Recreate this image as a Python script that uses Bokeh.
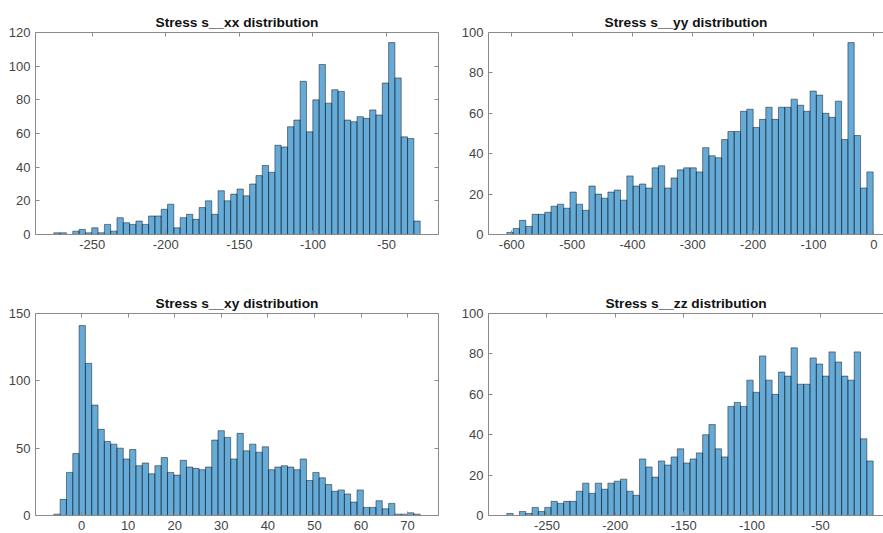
import numpy as np
from bokeh.plotting import figure
from bokeh.layouts import column, row
from bokeh.models import LinearAxis, FixedTicker, Range1d
from bokeh.embed import file_html
from bokeh.resources import INLINE

# ---- histogram data: 58 equal-width bins per stress component ----
sxx_counts = [1, 1, 0, 2, 3, 1, 4, 1, 6, 2,
              10, 7, 6, 8, 6, 11, 11, 15, 18, 4,
              10, 12, 9, 16, 20, 12, 26, 20, 24, 27,
              23, 30, 35, 41, 37, 53, 52, 64, 68, 91,
              61, 80, 101, 78, 86, 85, 68, 67, 70, 69,
              74, 71, 90, 114, 93, 58, 57, 8]
sxx_edges = (-276.1, -27.1)
sxx_xticks = [-250, -200, -150, -100, -50]
sxx_yticks = [0, 20, 40, 60, 80, 100, 120]

syy_counts = [1, 3, 7, 4, 10, 10, 11, 14, 15, 13,
              21, 15, 12, 24, 20, 18, 21, 22, 17, 29,
              24, 25, 23, 33, 34, 23, 28, 32, 33, 33,
              31, 43, 39, 38, 47, 51, 51, 61, 62, 53,
              57, 63, 57, 63, 63, 67, 64, 61, 71, 69,
              60, 58, 66, 47, 95, 49, 23, 31]
syy_edges = (-608.3, -1.0)
syy_xticks = [-600, -500, -400, -300, -200, -100, 0]
syy_yticks = [0, 20, 40, 60, 80, 100]

sxy_counts = [1, 12, 32, 46, 141, 113, 82, 64, 55, 53,
              50, 42, 49, 37, 39, 31, 37, 43, 32, 30,
              41, 36, 35, 34, 36, 56, 63, 58, 42, 61,
              48, 53, 47, 51, 34, 36, 37, 36, 34, 42,
              26, 32, 28, 23, 18, 19, 16, 10, 19, 6,
              6, 11, 5, 9, 1, 1, 2, 1]
sxy_edges = (-5.95, 72.7)
sxy_xticks = [0, 10, 20, 30, 40, 50, 60, 70]
sxy_yticks = [0, 50, 100, 150]

szz_counts = [1, 0, 2, 1, 4, 2, 4, 7, 6, 7,
              7, 12, 16, 11, 16, 13, 16, 17, 18, 12,
              10, 28, 24, 19, 27, 25, 29, 33, 26, 28,
              31, 40, 45, 33, 29, 54, 56, 54, 67, 61,
              79, 67, 60, 71, 69, 83, 65, 65, 78, 75,
              69, 81, 76, 69, 67, 81, 38, 27]
szz_edges = (-279.3, -11.4)
szz_xticks = [-250, -200, -150, -100, -50]
szz_yticks = [0, 20, 40, 60, 80, 100]

# ---- styling ----
FONT = "Liberation Sans"
AXIS_COLOR = "#8a8a8a"
LABEL_COLOR = "#444444"
BAR_FILL = "#0072BD"
FULL_FRAME_W = 403
FRAME_H = 202


def style_axis(ax, ticks, show_labels=True):
    ax.ticker = FixedTicker(ticks=ticks)
    ax.axis_line_color = AXIS_COLOR
    ax.major_tick_line_color = AXIS_COLOR
    ax.major_tick_in = 4
    ax.major_tick_out = 0
    ax.minor_tick_in = 0
    ax.minor_tick_out = 0
    ax.minor_tick_line_color = None
    if show_labels:
        ax.major_label_text_font = FONT
        ax.major_label_text_font_size = "13px"
        ax.major_label_text_color = LABEL_COLOR
        # plain ASCII hyphen for negative tick values
        ax.major_label_overrides = {t: str(t) for t in ticks}
    else:
        # box side: tick marks only, no labels painted
        ax.major_label_text_font_size = "1px"
        ax.major_label_text_color = None
        ax.major_label_standoff = 0


def panel(title, counts, edges, xticks, yticks, ymax,
          frame_w, border_left, border_right, border_top, border_bottom,
          right_box=True):
    n = len(counts)
    lo, hi = edges
    bin_edges = np.linspace(lo, hi, n + 1)
    pad = 0.05 * (hi - lo)
    x0, x1 = lo - pad, hi + pad
    # the visible frame may be narrower than the full axes box
    x_end = x0 + (x1 - x0) * frame_w / FULL_FRAME_W

    p = figure(frame_width=frame_w, frame_height=FRAME_H,
               x_range=Range1d(x0, x_end), y_range=Range1d(0, ymax),
               output_backend="svg", toolbar_location=None,
               min_border_left=border_left, min_border_right=border_right,
               min_border_top=border_top, min_border_bottom=border_bottom,
               background_fill_color="white", border_fill_color="white")
    p.outline_line_color = None
    p.xgrid.visible = False
    p.ygrid.visible = False

    p.quad(left=bin_edges[:-1], right=bin_edges[1:], bottom=0, top=counts,
           fill_color=BAR_FILL, fill_alpha=0.6,
           line_color="black", line_width=0.6, line_alpha=0.75)

    style_axis(p.xaxis[0], xticks)
    p.xaxis[0].major_label_standoff = 5
    style_axis(p.yaxis[0], yticks)
    p.yaxis[0].major_label_standoff = 5

    top_ax = LinearAxis()
    style_axis(top_ax, xticks, show_labels=False)
    p.add_layout(top_ax, "above")
    if right_box:
        right_ax = LinearAxis()
        style_axis(right_ax, yticks, show_labels=False)
        p.add_layout(right_ax, "right")

    p.title.text = title
    p.title.align = "center"
    p.title.text_font = FONT
    p.title.text_font_size = "13.7px"
    p.title.text_font_style = "bold"
    p.title.text_color = "#111111"
    p.title.standoff = 6
    return p


p1 = panel("Stress s__xx distribution", sxx_counts, sxx_edges, sxx_xticks,
           sxx_yticks, 120, FULL_FRAME_W, 35, 10, 32, 40)
p2 = panel("Stress s__yy distribution", syy_counts, syy_edges, syy_xticks,
           syy_yticks, 100, 395, 40, 0, 32, 40, right_box=False)
p3 = panel("Stress s__xy distribution", sxy_counts, sxy_edges, sxy_xticks,
           sxy_yticks, 150, FULL_FRAME_W, 35, 10, 39, 18)
p4 = panel("Stress s__zz distribution", szz_counts, szz_edges, szz_xticks,
           szz_yticks, 100, 395, 40, 0, 39, 18, right_box=False)

layout = column(row(p1, p2), row(p3, p4))

html = file_html(layout, INLINE, title="Stress distributions")
html = html.replace("</head>",
                    "<style>html, body {margin: 0; overflow: hidden;}</style></head>")
open("out.html", "w").write(html)
